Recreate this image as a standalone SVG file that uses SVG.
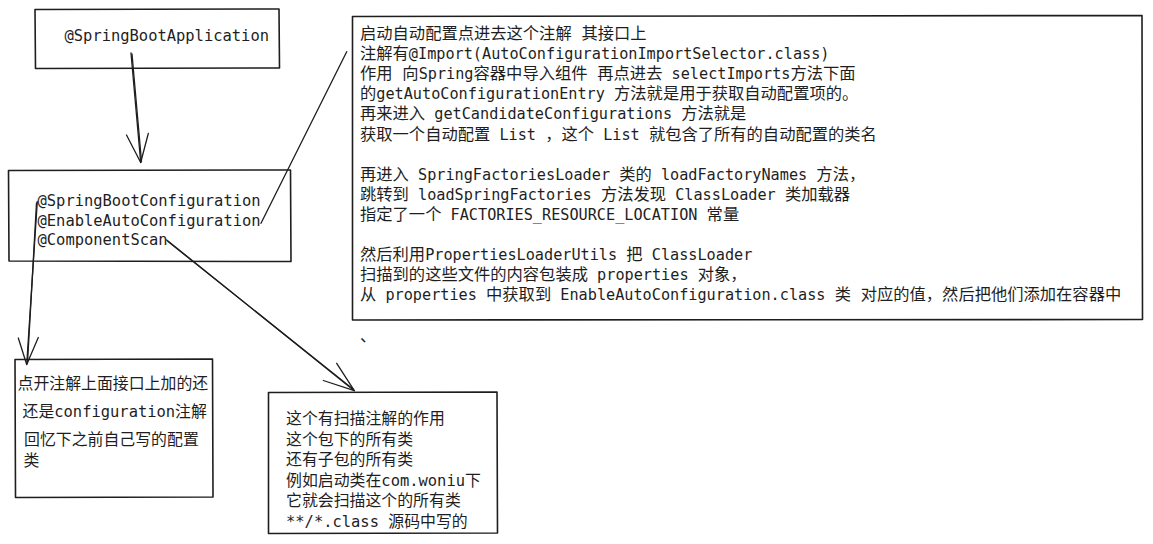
<svg xmlns="http://www.w3.org/2000/svg" width="1153" height="544" viewBox="0 0 1153 544">
<style>
.box{fill:#ffffff;stroke:#1e1e1e;stroke-width:1.6;stroke-linejoin:round}
.ln{fill:none;stroke:#1e1e1e;stroke-width:1.3;stroke-linecap:round;stroke-linejoin:round}
text{font-family:"DejaVu Sans Mono","Noto Sans CJK SC",monospace;fill:#1e1e1e;white-space:pre}
.t1{font-size:15.2px}
.t1 .c{font-size:16.3px}
.t2{font-size:15.45px}
.t2 .c{font-size:15.9px}
</style>
<rect width="1153" height="544" fill="#ffffff"/>

<g id="node-app">
<path class="box" d="M35,9.5 L279,9 L279.5,68 L35.5,68.5 Z"/>
<text class="t2" x="64.5" y="41" xml:space="preserve">@SpringBootApplication</text>
</g>

<g id="node-annotations">
<path class="box" d="M8.5,170.5 L290.5,170 L291,261.5 L9,261 Z"/>
<text class="t2" x="37.5" y="206" xml:space="preserve">@SpringBootConfiguration</text>
<text class="t2" x="37.5" y="225.5" xml:space="preserve">@EnableAutoConfiguration</text>
<text class="t2" x="37.5" y="245" xml:space="preserve">@ComponentScan</text>
</g>

<g id="node-autoconfig">
<path class="box" d="M352.5,16.5 L1142,15.5 L1142.5,319.5 L352.5,320 Z"/>
<text class="t1" x="360" y="39" xml:space="preserve"><tspan class="c">启动自动配置点进去这个注解 其接口上</tspan></text>
<text class="t1" x="360" y="59.1" xml:space="preserve"><tspan class="c">注解有</tspan>@Import(AutoConfigurationImportSelector.class)</text>
<text class="t1" x="360" y="79.2" xml:space="preserve"><tspan class="c">作用 向</tspan>Spring<tspan class="c">容器中导入组件 再点进去</tspan> selectImports<tspan class="c">方法下面</tspan></text>
<text class="t1" x="360" y="99.3" xml:space="preserve"><tspan class="c">的</tspan>getAutoConfigurationEntry <tspan class="c">方法就是用于获取自动配置项的。</tspan></text>
<text class="t1" x="360" y="119.4" xml:space="preserve"><tspan class="c">再来进入</tspan> getCandidateConfigurations <tspan class="c">方法就是</tspan></text>
<text class="t1" x="360" y="139.5" xml:space="preserve"><tspan class="c">获取一个自动配置</tspan> List <tspan class="c">，这个</tspan> List <tspan class="c">就包含了所有的自动配置的类名</tspan></text>
<text class="t1" x="360" y="179.7" xml:space="preserve"><tspan class="c">再进入</tspan> SpringFactoriesLoader <tspan class="c">类的</tspan> loadFactoryNames <tspan class="c">方法，</tspan></text>
<text class="t1" x="360" y="199.8" xml:space="preserve"><tspan class="c">跳转到</tspan> loadSpringFactories <tspan class="c">方法发现</tspan> ClassLoader <tspan class="c">类加载器</tspan></text>
<text class="t1" x="360" y="219.9" xml:space="preserve"><tspan class="c">指定了一个</tspan> FACTORIES_RESOURCE_LOCATION <tspan class="c">常量</tspan></text>
<text class="t1" x="360" y="260.1" xml:space="preserve"><tspan class="c">然后利用</tspan>PropertiesLoaderUtils <tspan class="c">把</tspan> ClassLoader</text>
<text class="t1" x="360" y="280.2" xml:space="preserve"><tspan class="c">扫描到的这些文件的内容包装成</tspan> properties <tspan class="c">对象，</tspan></text>
<text class="t1" x="360" y="300.3" xml:space="preserve"><tspan class="c">从</tspan> properties <tspan class="c">中获取到</tspan> EnableAutoConfiguration.class <tspan class="c">类 对应的值，然后把他们添加在容器中</tspan></text>
<text class="t1" x="360" y="340.5" xml:space="preserve"><tspan class="c">、</tspan></text>
</g>

<g id="node-config-note">
<path class="box" d="M15,359.5 L212.5,359 L213,497 L15.5,497.5 Z"/>
<text class="t2" x="17.5" y="389" xml:space="preserve"><tspan class="c">点开注解上面接口上加的还</tspan></text>
<text class="t2" x="22.5" y="416.5" xml:space="preserve"><tspan class="c">还是</tspan>configuration<tspan class="c">注解</tspan></text>
<text class="t2" x="24" y="445" xml:space="preserve"><tspan class="c">回忆下之前自己写的配置</tspan></text>
<text class="t2" x="23.5" y="466" xml:space="preserve"><tspan class="c">类</tspan></text>
</g>

<g id="node-scan-note">
<path class="box" d="M268.5,392.5 L497,392 L497.5,533 L268.5,533.5 Z"/>
<text class="t2" x="286" y="424" xml:space="preserve"><tspan class="c">这个有扫描注解的作用</tspan></text>
<text class="t2" x="286" y="444.5" xml:space="preserve"><tspan class="c">这个包下的所有类</tspan></text>
<text class="t2" x="286" y="465" xml:space="preserve"><tspan class="c">还有子包的所有类</tspan></text>
<text class="t2" x="286" y="485.5" xml:space="preserve"><tspan class="c">例如启动类在</tspan>com.woniu<tspan class="c">下</tspan></text>
<text class="t2" x="286" y="506" xml:space="preserve"><tspan class="c">它就会扫描这个的所有类</tspan></text>
<text class="t2" x="286" y="527" xml:space="preserve">**/*.class <tspan class="c">源码中写的</tspan></text>
</g>

<g id="connectors">
<path class="ln" d="M131,53 L140.7,162.5"/>
<path class="ln" d="M132,54 L141.5,161.5"/>
<path class="ln" d="M126.5,135 L140.7,162.5 L148.3,133.5"/>
<path class="ln" d="M346.7,51.7 L261,223.3"/>
<path class="ln" d="M37.3,201.5 L26.7,364.5"/>
<path class="ln" d="M36.5,203 L27.5,363"/>
<path class="ln" d="M18.3,338 L26.7,364.5 L38.3,337.5"/>
<path class="ln" d="M166.7,240 L354.3,390.7"/>
<path class="ln" d="M168,241.5 L353.5,389.5"/>
<path class="ln" d="M336.7,363.3 L354.3,390.7 L323.3,380.5"/>
</g>
</svg>
